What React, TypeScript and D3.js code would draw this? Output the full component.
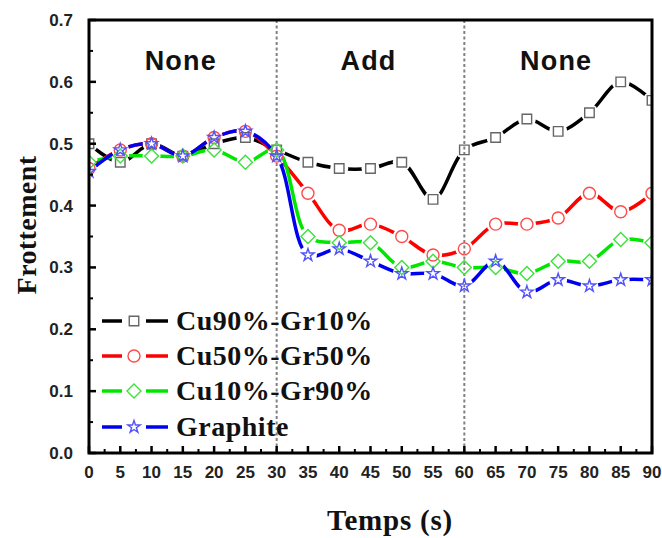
import { useEffect } from "react"
import * as d3 from "d3"

const times = [0, 5, 10, 15, 20, 25, 30, 35, 40, 45, 50, 55, 60, 65, 70, 75, 80, 85, 90]
const cu90 = [0.5, 0.47, 0.5, 0.48, 0.5, 0.51, 0.49, 0.47, 0.46, 0.46, 0.47, 0.41, 0.49, 0.51, 0.54, 0.52, 0.55, 0.6, 0.57]
const cu50 = [0.46, 0.49, 0.5, 0.48, 0.51, 0.52, 0.48, 0.42, 0.36, 0.37, 0.35, 0.32, 0.33, 0.37, 0.37, 0.38, 0.42, 0.39, 0.42]
const cu10 = [0.47, 0.48, 0.48, 0.48, 0.49, 0.47, 0.49, 0.35, 0.34, 0.34, 0.3, 0.31, 0.3, 0.3, 0.29, 0.31, 0.31, 0.345, 0.34]
const graphite = [0.455, 0.49, 0.5, 0.48, 0.51, 0.52, 0.48, 0.32, 0.33, 0.31, 0.29, 0.29, 0.27, 0.31, 0.26, 0.28, 0.27, 0.28, 0.28]

const seriesNames = ["Cu90%-Gr10%", "Cu50%-Gr50%", "Cu10%-Gr90%", "Graphite"]
const seriesValues = [cu90, cu50, cu10, graphite]
const lineColors = ["#000000", "#ff0000", "#00e600", "#0000f0"]
const markerColors = ["#666666", "#ff4a4a", "#3ee03e", "#5252ff"]
const markerTypes = ["square", "circle", "diamond", "star"]

const yTicks = [0, 0.1, 0.2, 0.3, 0.4, 0.5, 0.6, 0.7]
const xTicks = [0, 5, 10, 15, 20, 25, 30, 35, 40, 45, 50, 55, 60, 65, 70, 75, 80, 85, 90]
const phaseBounds = [30, 60]
const phaseLabels = [
  { label: "None", at: 15 },
  { label: "Add", at: 45 },
  { label: "None", at: 75 },
]

const W = 662
const H = 538
const left = 89
const right = 652
const top = 20
const bottom = 453

const x = d3.scaleLinear().domain([0, 90]).range([left, right])
const y = d3.scaleLinear().domain([0, 0.7]).range([bottom, top])

const starPath = d3.symbol(d3.symbolStar, 48)()
const squarePath = d3.symbol(d3.symbolSquare, 90)()

function Marker({ type, cx, cy, color }) {
  const common = { fill: "none", stroke: color, strokeWidth: 1.4 }
  if (type === "circle") return <circle cx={cx} cy={cy} r={6} {...common} />
  if (type === "square") return <path d={squarePath} transform={`translate(${cx},${cy})`} {...common} />
  if (type === "diamond")
    return <path d="M0,-7L7,0L0,7L-7,0Z" transform={`translate(${cx},${cy})`} {...common} />
  return <path d={starPath} transform={`translate(${cx},${cy})`} {...common} />
}

export default function App() {
  useEffect(() => {
    document.body.style.margin = "0"
  }, [])

  const line = d3
    .line<number>()
    .x((d, i) => x(times[i]))
    .y((d) => y(d))
    .curve(d3.curveCatmullRom.alpha(0.5))

  const minorX = d3.range(2.5, 90, 5)
  const minorY = d3.range(0.05, 0.7, 0.1)

  const legendY = [321, 356, 391, 427]

  return (
    <svg width={W} height={H} style={{ display: "block" }}>
      <rect width={W} height={H} fill="#ffffff" />
      <defs>
        {seriesValues.map((vals, s) => (
          <mask id={`gap${s}`} key={s} maskUnits="userSpaceOnUse" x={0} y={0} width={W} height={H}>
            <rect width={W} height={H} fill="white" />
            {vals.map((v, i) => (
              <circle key={i} cx={x(times[i])} cy={y(v)} r={9} fill="black" />
            ))}
          </mask>
        ))}
        <clipPath id="plot">
          <rect x={left} y={top} width={right - left} height={bottom - top} />
        </clipPath>
      </defs>

      {/* phase separators */}
      {phaseBounds.map((b) => (
        <line key={b} x1={x(b)} x2={x(b)} y1={top} y2={bottom} stroke="#808080" strokeWidth={2} strokeDasharray="3,2.5" />
      ))}

      {phaseLabels.map((p, i) => (
        <text
          key={i}
          x={x(p.at) - 2}
          y={70}
          textAnchor="middle"
          fontFamily="Liberation Sans, Arial, sans-serif"
          fontWeight="bold"
          fontSize={27}
          letterSpacing={1.2}
          fill="#111"
        >
          {p.label}
        </text>
      ))}

      <g clipPath="url(#plot)">
        {seriesValues.map((vals, s) => (
          <path
            key={s}
            d={line(vals)}
            fill="none"
            stroke={lineColors[s]}
            strokeWidth={3.5}
            mask={`url(#gap${s})`}
          />
        ))}
        {seriesValues.map((vals, s) =>
          vals.map((v, i) => (
            <Marker key={`${s}-${i}`} type={markerTypes[s]} cx={x(times[i])} cy={y(v)} color={markerColors[s]} />
          ))
        )}
      </g>

      {/* frame */}
      <rect x={left} y={top} width={right - left} height={bottom - top} fill="none" stroke="#000" strokeWidth={3} />

      {/* y ticks */}
      {yTicks.map((t) => (
        <g key={t}>
          <line x1={left} x2={left + 7} y1={y(t)} y2={y(t)} stroke="#000" strokeWidth={2.5} />
          <text
            x={73}
            y={y(t)}
            dy="0.35em"
            textAnchor="end"
            fontFamily="Liberation Sans, Arial, sans-serif"
            fontWeight="bold"
            fontSize={17}
            fill="#222"
          >
            {t.toFixed(1)}
          </text>
        </g>
      ))}
      {minorY.map((t) => (
        <line key={t} x1={left} x2={left + 4} y1={y(t)} y2={y(t)} stroke="#000" strokeWidth={2} />
      ))}

      {/* x ticks */}
      {xTicks.map((t) => (
        <g key={t}>
          <line x1={x(t)} x2={x(t)} y1={bottom} y2={bottom - 7} stroke="#000" strokeWidth={2.5} />
          <text
            x={x(t)}
            y={478}
            textAnchor="middle"
            fontFamily="Liberation Sans, Arial, sans-serif"
            fontWeight="bold"
            fontSize={17}
            fill="#222"
          >
            {t}
          </text>
        </g>
      ))}
      {minorX.map((t) => (
        <line key={t} x1={x(t)} x2={x(t)} y1={bottom} y2={bottom - 4} stroke="#000" strokeWidth={2} />
      ))}

      {/* legend */}
      {seriesNames.map((name, s) => (
        <g key={name}>
          <line x1={102} x2={122} y1={legendY[s]} y2={legendY[s]} stroke={lineColors[s]} strokeWidth={3.5} />
          <line x1={146} x2={168} y1={legendY[s]} y2={legendY[s]} stroke={lineColors[s]} strokeWidth={3.5} />
          <Marker type={markerTypes[s]} cx={134} cy={legendY[s]} color={markerColors[s]} />
          <text
            x={176}
            y={legendY[s] + 9}
            fontFamily="Liberation Serif, Times New Roman, serif"
            fontWeight="bold"
            fontSize={28}
            letterSpacing={0.5}
            fill="#111"
          >
            {name}
          </text>
        </g>
      ))}

      {/* axis titles */}
      <text
        transform={`translate(36,225) rotate(-90)`}
        textAnchor="middle"
        fontFamily="Liberation Serif, Times New Roman, serif"
        fontWeight="bold"
        fontSize={28}
        letterSpacing={0.4}
        fill="#111"
      >
        Frottement
      </text>
      <text
        x={390}
        y={530}
        textAnchor="middle"
        fontFamily="Liberation Serif, Times New Roman, serif"
        fontWeight="bold"
        fontSize={29}
        letterSpacing={0.8}
        fill="#111"
      >
        Temps (s)
      </text>
    </svg>
  )
}
